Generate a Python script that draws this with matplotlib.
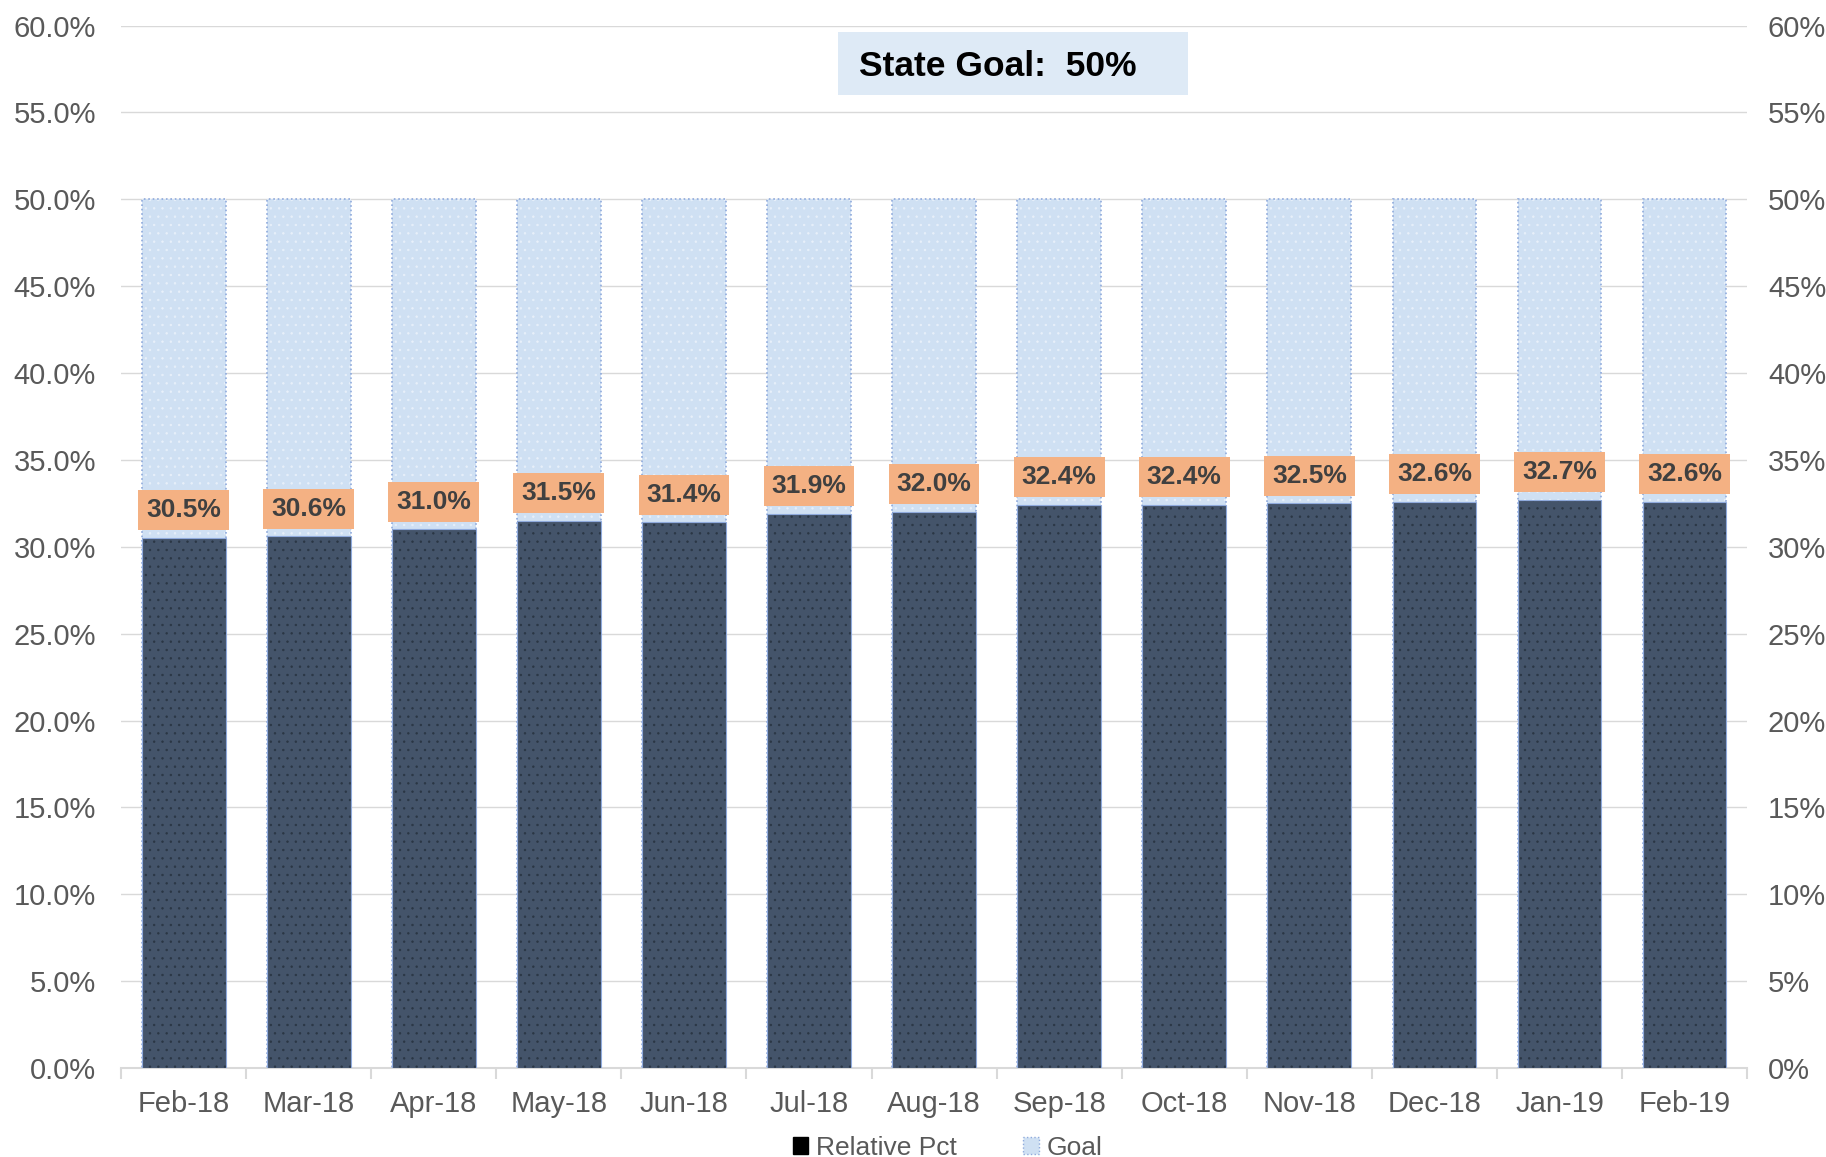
import matplotlib.pyplot as plt
from matplotlib.patches import Patch, Rectangle
from matplotlib.ticker import FuncFormatter

plt.rcParams['font.family'] = ['Liberation Sans', 'DejaVu Sans']
plt.rcParams['hatch.linewidth'] = 0.5

months = ["Feb-18", "Mar-18", "Apr-18", "May-18", "Jun-18", "Jul-18", "Aug-18",
          "Sep-18", "Oct-18", "Nov-18", "Dec-18", "Jan-19", "Feb-19"]
relative_pct = [30.5, 30.6, 31.0, 31.5, 31.4, 31.9, 32.0, 32.4, 32.4, 32.5, 32.6, 32.7, 32.6]
goal = [50] * len(months)

dark = "#44546A"
light = "#CFE0F3"
edge = "#8FAADC"
grey = "#595959"

fig = plt.figure(figsize=(18.26, 11.57), dpi=100)
ax = fig.add_axes([0.0663, 0.0769, 0.8905, 0.901])

x = range(len(months))
w = 0.67

## goal bars (background)
ax.bar(x, goal, width=w, color=light, hatch="..", edgecolor="#e8f0fa", linewidth=0, zorder=2)
ax.bar(x, goal, width=w, fill=False, edgecolor=edge, linestyle=":", linewidth=1.2, zorder=3)

## actual values
ax.bar(x, relative_pct, width=w, color=dark, hatch="..", edgecolor="#2a3644", linewidth=0, zorder=4)
ax.bar(x, relative_pct, width=w, fill=False, edgecolor=edge, linewidth=0.8, zorder=5)

for i, v in enumerate(relative_pct):
    ax.annotate(f"{v:.1f}%", (i, v), xytext=(0, 20), textcoords="offset points",
                ha="center", va="center", fontsize=19, fontweight="bold", color="#404040",
                bbox=dict(boxstyle="square,pad=0.3", facecolor="#F4B183", edgecolor="none"),
                zorder=6)

ax.set_xlim(-0.5, len(months) - 0.5)
ax.set_ylim(0, 60)
ax.set_yticks(range(0, 61, 5))
ax.yaxis.set_major_formatter(FuncFormatter(lambda v, p: f"{v:.1f}%"))
ax.set_xticks(list(x))
ax.set_xticklabels(months)
ax.set_xticks([i - 0.5 for i in range(len(months) + 1)], minor=True)
ax.tick_params(axis="x", which="major", length=0, labelsize=21, labelcolor=grey, pad=16)
ax.tick_params(axis="x", which="minor", length=8, color="#D9D9D9", width=1.5)
ax.tick_params(axis="y", length=0, labelsize=21, labelcolor=grey, pad=18)

ax.grid(axis="y", color="#D9D9D9", linewidth=1, zorder=0)
ax.set_axisbelow(True)
for s in ["top", "right", "left"]:
    ax.spines[s].set_visible(False)
ax.spines["bottom"].set_color("#D9D9D9")
ax.spines["bottom"].set_linewidth(1.5)

ax2 = ax.twinx()
ax2.set_ylim(0, 60)
ax2.set_yticks(range(0, 61, 5))
ax2.yaxis.set_major_formatter(FuncFormatter(lambda v, p: f"{v:.0f}%"))
ax2.tick_params(axis="y", length=0, labelsize=21, labelcolor=grey, pad=15)
for s in ax2.spines.values():
    s.set_visible(False)

## title box
fig.add_artist(Rectangle((838 / 1826, 1 - 95 / 1157), 350 / 1826, 63 / 1157,
                         transform=fig.transFigure, facecolor="#DEEAF6", edgecolor="none"))
fig.text(998 / 1826, 1 - 67 / 1157, "State Goal:  50%", ha="center", va="center",
         fontsize=25.5, fontweight="bold", color="black")

handles = [Patch(facecolor="black", edgecolor="black"),
           Patch(facecolor=light, edgecolor=edge, linestyle=":")]
fig.legend(handles, ["Relative Pct", "Goal"], loc="center", bbox_to_anchor=(0.519, 0.008),
           ncol=2, frameon=False, fontsize=19, labelcolor=grey, handlelength=0.6,
           handleheight=0.6, handletextpad=0.3, columnspacing=2.5)

plt.savefig("out.png", dpi=100)
